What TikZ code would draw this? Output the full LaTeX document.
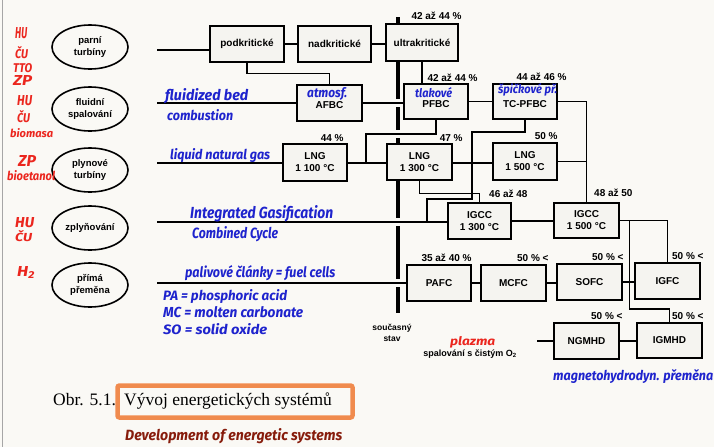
\documentclass[tikz,border=0pt]{standalone}
\usepackage{fontspec}
\setmainfont{Liberation Sans}
\newfontfamily\capfont{Liberation Serif}
\newfontfamily\hand{Fira Sans}
\usepackage{graphicx}
\usetikzlibrary{shapes.geometric}
\definecolor{bgc}{RGB}{250,249,245}
\definecolor{boxfill}{RGB}{245,244,240}
\definecolor{pen}{RGB}{30,35,205}
\definecolor{marker}{RGB}{235,38,30}
\definecolor{orng}{RGB}{240,128,60}
\definecolor{brn}{RGB}{135,28,12}
\newcommand{\hw}[3]{\resizebox{#1pt}{#2pt}{\hand\itshape\bfseries #3}}
\begin{document}
\begin{tikzpicture}[x=1pt,y=-1pt,
  blk/.style={draw, line width=1.5pt, fill=boxfill, minimum width=64pt, minimum height=36pt, inner sep=1pt, align=center, font=\fontsize{10}{12}\selectfont\bfseries},
  ell/.style={draw, ellipse, line width=1.6pt, minimum width=76pt, minimum height=44pt, inner sep=0pt, align=center, font=\fontsize{9.5}{12}\selectfont\bfseries},
  con/.style={line width=1.2pt},
  pct/.style={anchor=base east, inner sep=0pt, font=\fontsize{10}{12}\selectfont\bfseries},
  mk/.style={text=marker, inner sep=0pt, anchor=base west},
  bp/.style={text=pen, inner sep=0pt, anchor=base west},
  plain/.style={inner sep=0pt, align=center},
]
\useasboundingbox (0,0) rectangle (714,447);
\fill[bgc] (0,0) rectangle (714,447);
\draw[gray!70, line width=1.5pt] (2.5,0) -- (2.5,447);

% ellipses
\node[ell] (e1) at (90,47) {parní\\turbíny};
\node[ell] (e2) at (90,109) {fluidní\\spalování};
\node[ell] (e3) at (90,170) {plynové\\turbíny};
\node[ell] (e4) at (90,228) {zplyňování};
\node[ell] (e5) at (90,285) {přímá\\přeměna};

% thick "current state" line with gaps
\draw[line width=3.3pt] (398,17) -- (398,313);
\foreach \yy in {103,134,222,283} \fill[bgc] (393,\yy-4) rectangle (403,\yy+4);

% boxes
\node[blk, minimum width=74pt] (pod) at (247,44) {podkritické};
\node[blk, minimum width=73pt] (nad) at (334.5,44) {nadkritické};
\node[blk, minimum width=72pt, minimum height=37pt] (ultra) at (422,42.5) {ultrakritické};
\node[blk, minimum width=65pt] (afbc) at (329.5,103) {\\AFBC};
\node[blk, minimum height=35pt] (pfbc) at (436,101.5) {\\PFBC};
\node[blk, minimum height=35pt] (tcp) at (525,101.5) {\\TC-PFBC};
\node[blk, minimum height=37pt] (lng1) at (315,162.5) {LNG\\1~100~°C};
\node[blk, minimum width=65pt] (lng2) at (419.5,162) {LNG\\1~300~°C};
\node[blk, minimum height=37pt] (lng3) at (525,161.5) {LNG\\1~500~°C};
\node[blk, minimum width=63pt] (ig1) at (479.5,221) {IGCC\\1~300~°C};
\node[blk, minimum width=65pt, minimum height=35pt] (ig2) at (586.5,220.5) {IGCC\\1~500~°C};
\node[blk] (pafc) at (439,283) {PAFC};
\node[blk, minimum width=65pt] (mcfc) at (513.5,283) {MCFC};
\node[blk, minimum width=65pt] (sofc) at (589.5,282) {SOFC};
\node[blk, minimum width=65pt] (igfc) at (667.5,281) {IGFC};
\node[blk, minimum width=65pt] (ngm) at (586.5,341) {NGMHD};
\node[blk, minimum width=65pt, minimum height=35pt] (igm) at (669.5,340.5) {IGMHD};

% free ends of the rows
\coordinate (r1) at (157,50);
\coordinate (r2) at (157,103);
\coordinate (r3) at (157,163);
\coordinate (r4) at (157,222);
\coordinate (r5) at (157,283);
\coordinate (r6) at (537,341);

% connectors
\draw[con] (r1) -- (r1 -| pod.west);
\draw[con] (pod.east) -- (nad.west);
\draw[con] (nad.east) -- (nad.east -| ultra.west);
\draw[con] (pod.south) -- ++(0,11) -| (afbc.north);
\draw[con] (r2) -- (afbc.west);
\draw[con] (afbc.east) -- (afbc.east -| pfbc.west);
\draw[con] (ultra.south) -- (ultra.south |- pfbc.north);
\draw[con] (pfbc.east) -- (tcp.west);
\draw[con] (tcp.east) -| (ig2.north);
\draw[con] (pfbc.south) |- (366,134) -- (366,163);
\draw[con] (r3) -- (r3 -| lng1.west);
\draw[con] (lng1.east |- r3) -- (r3 -| lng2.west);
\draw[con] (lng2.east |- r3) -- (r3 -| lng3.west);
\draw[con] (lng3.east) -- (lng3.east -| ig2.north);
\draw[con] (tcp.south) |- (472,132) |- (427,199) -- (427,222);
\draw[con] (lng2.south) -- ++(0,13) -| (ig1.north);
\draw[con] (r4) -- (r4 -| ig1.west);
\draw[con] (ig1.east) -- (ig1.east -| ig2.west);
\draw[con] (ig2.east) -| (igfc.north);
\draw[con] ([xshift=10pt]ig2.east) -- ++(0,88.5) -| (igm.north);
\draw[con] (r5) -- (r5 -| pafc.west);
\draw[con] (pafc.east) -- (mcfc.west);
\draw[con] (mcfc.east) -- (mcfc.east -| sofc.west);
\draw[con] (sofc.east) -- (sofc.east -| igfc.west);
\draw[con] (r6) -- (r6 -| ngm.west);
\draw[con] (ngm.east) -- (ngm.east -| igm.west);

% efficiency labels
\node[pct] (p1) at ([shift={(3pt,3.4pt)}]ultra.north east) {42 až 44 \%};
\node[pct] (p2) at ([shift={(9pt,2pt)}]pfbc.north east) {42 až 44 \%};
\node[pct] (p3) at ([shift={(9pt,3pt)}]tcp.north east) {44 až 46 \%};
\node[pct] (p4) at ([shift={(-4pt,1.5pt)}]lng1.north east) {44 \%};
\node[pct] (p5) at ([shift={(10pt,1.5pt)}]lng2.north east) {47 \%};
\node[pct] (p6) at ([shift={(0pt,2.5pt)}]lng3.north east) {50 \%};
\node[pct] (p7) at ([shift={(16pt,4.4pt)}]ig1.north east) {46 až 48};
\node[pct] (p8) at ([shift={(13pt,5.4pt)}]ig2.north east) {48 až 50};
\node[pct] (p9) at ([shift={(0pt,2.4pt)}]pafc.north east) {35 až 40 \%};
\node[pct] (p10) at ([shift={(2pt,2.4pt)}]mcfc.north east) {50 \% <};
\node[pct] (p11) at ([shift={(1pt,2.4pt)}]sofc.north east) {50 \% <};
\node[pct] (p12) at ([shift={(3pt,2.4pt)}]igfc.north east) {50 \% <};
\node[pct] (p13) at ([shift={(3pt,2.4pt)}]ngm.north east) {50 \% <};
\node[pct] (p14) at ([shift={(1pt,2.4pt)}]igm.north east) {50 \% <};

% printed notes
\node[plain, font=\fontsize{8.5}{10.5}\selectfont\bfseries] (sst) at (392,333) {současný\\stav};
\node[plain, font=\fontsize{9}{11}\selectfont\bfseries] (so2) at (470,354) {spalování s čistým O\textsubscript{2}};

% handwritten red notes
\node[mk] (h1) at (15,38) {\hw{12}{11}{HU}};
\node[mk] (h2) at (15,58) {\hw{13}{12}{ČU}};
\node[mk] (h3) at (13,72) {\hw{19}{9}{TTO}};
\node[mk] (h4) at (13,85) {\hw{19}{10}{ZP}};
\node[mk] (h5) at (17,105) {\hw{15}{10}{HU}};
\node[mk] (h6) at (17,122) {\hw{13}{12}{ČU}};
\node[mk] (h7) at (10,137) {\hw{43}{9}{biomasa}};
\node[mk] (h8) at (18,166) {\hw{18}{11}{ZP}};
\node[mk] (h9) at (7,180) {\hw{48}{10}{bioetanol}};
\node[mk] (h10) at (15,227) {\hw{19}{10}{HU}};
\node[mk] (h11) at (15,241) {\hw{17}{11}{ČU}};
\node[mk] (h12) at (17,276) {\hw{18}{10}{H\textsubscript{2}}};
\node[mk] (h13) at (450,345) {\hw{45}{9}{plazma}};

% handwritten blue notes
\node[bp] (b1) at (165,100) {\hw{83}{12}{fluidized bed}};
\node[bp] (b2) at (167,120) {\hw{66}{11}{combustion}};
\node[bp] (b3) at (307,97) {\hw{40}{10}{atmosf.}};
\node[bp] (b4) at (415,97) {\hw{37}{10}{tlakové}};
\node[bp] (b5) at (498,93) {\hw{59}{10}{špičkové př.}};
\node[bp] (b6) at (170,159) {\hw{100}{11}{liquid natural gas}};
\node[bp] (b7) at (190,218) {\hw{143}{13}{Integrated Gasification}};
\node[bp] (b8) at (192,238) {\hw{86}{12}{Combined Cycle}};
\node[bp] (b9) at (185,277) {\hw{150}{12}{palivové články = fuel cells}};
\node[bp] (b10) at (163,300) {\hw{124}{11}{PA = phosphoric acid}};
\node[bp] (b11) at (163,317) {\hw{140}{11}{MC = molten carbonate}};
\node[bp] (b12) at (163,334) {\hw{104}{11}{SO = solid oxide}};
\node[bp] (b13) at (553,380) {\hw{160}{11}{magnetohydrodyn. přeměna}};

% caption
\node[inner sep=0pt, anchor=base west, font=\capfont\fontsize{17.5}{20}\selectfont] (obr) at (53,405) {Obr. 5.1.};
\node[inner sep=0pt, anchor=base west, font=\capfont\fontsize{17.5}{20}\selectfont] (cap) at (124,405) {Vývoj energetických systémů};
\draw[orng, opacity=0.9, line width=4.5pt, rounded corners=2pt] (117.5,385.5) rectangle (352.5,417.5);
\node[inner sep=0pt, anchor=base west, text=brn] (dev) at (125,440) {\hw{217}{12}{Development of energetic systems}};
\end{tikzpicture}
\end{document}
